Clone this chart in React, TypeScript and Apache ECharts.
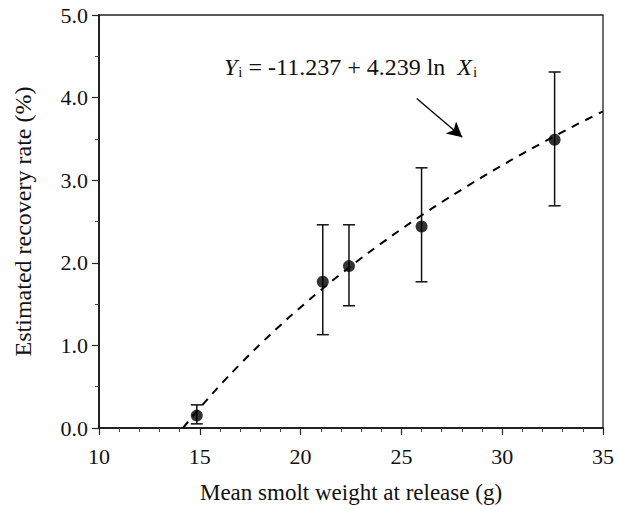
import React, { useEffect, useRef } from "react";
import * as echarts from "echarts";

const weights = [14.85, 21.1, 22.4, 26.0, 32.6];
const recovery = [0.15, 1.77, 1.96, 2.44, 3.49];
const lowerCI = [0.05, 1.13, 1.48, 1.77, 2.69];
const upperCI = [0.28, 2.46, 2.46, 3.15, 4.31];

const fitIntercept = -11.237;
const fitSlope = 4.239;
const fitX = [14.17, 15, 16, 17, 18, 19, 20, 21, 22, 23, 24, 25, 26, 27, 28, 29, 30, 31, 32, 33, 34, 35];

const xTicks = [10, 15, 20, 25, 30, 35];
const yTicks = [0, 1, 2, 3, 4, 5];

const arrowStart = [25.76, 3.99];
const arrowEnd = [28.02, 3.52];

const FONT = "Liberation Serif";

export default function App() {
  const ref = useRef<HTMLDivElement>(null);
  useEffect(() => {
    const chart = echarts.init(ref.current!, null, { renderer: "svg" });
    const fitData = fitX.map((x) => [x, fitIntercept + fitSlope * Math.log(x)]);
    const errData = weights.map((w, i) => [w, lowerCI[i], upperCI[i]]);
    chart.setOption({
      animation: false,
      backgroundColor: "#fff",
      grid: {
        left: 99,
        top: 15,
        right: 18,
        bottom: 75,
        show: true,
        borderColor: "#222",
        borderWidth: 1.3,
        backgroundColor: "transparent",
      },
      xAxis: {
        type: "value",
        min: xTicks[0],
        max: xTicks[xTicks.length - 1],
        interval: 5,
        name: "Mean smolt weight at release (g)",
        nameLocation: "middle",
        nameGap: 53,
        nameTextStyle: { fontFamily: FONT, fontSize: 23, color: "#111" },
        axisLine: { show: true, lineStyle: { color: "#222", width: 2 } },
        axisTick: { show: true, inside: false, length: 7, lineStyle: { color: "#222", width: 1.2 } },
        minorTick: { show: true, splitNumber: 5, length: 4, lineStyle: { color: "#444", width: 1 } },
        splitLine: { show: false },
        axisLabel: { fontFamily: FONT, fontSize: 22, color: "#111", margin: 17 },
      },
      yAxis: {
        type: "value",
        min: yTicks[0],
        max: yTicks[yTicks.length - 1],
        interval: 1,
        name: "Estimated recovery rate (%)",
        nameLocation: "middle",
        nameGap: 64,
        nameTextStyle: { fontFamily: FONT, fontSize: 24, color: "#111" },
        axisLine: { show: true, lineStyle: { color: "#222", width: 2 } },
        axisTick: { show: true, inside: false, length: 7, lineStyle: { color: "#222", width: 1.2 } },
        minorTick: { show: true, splitNumber: 2, length: 4, lineStyle: { color: "#444", width: 1 } },
        splitLine: { show: false },
        axisLabel: {
          fontFamily: FONT,
          fontSize: 22,
          color: "#111",
          margin: 11,
          formatter: (v: number) => v.toFixed(1),
        },
      },
      series: [
        {
          type: "line",
          data: fitData,
          showSymbol: false,
          symbol: "none",
          smooth: true,
          lineStyle: { color: "#000", width: 2, type: [8, 7] },
          z: 2,
          markLine: {
            silent: true,
            symbol: ["none", "arrow"],
            symbolSize: [12, 15],
            label: { show: false },
            lineStyle: { color: "#000", width: 1.3, type: "solid" },
            data: [[{ coord: arrowStart }, { coord: arrowEnd }]],
          },
        },
        {
          type: "custom",
          data: errData,
          z: 3,
          renderItem: (params: any, api: any) => {
            const x = api.value(0);
            const lo = api.coord([x, api.value(1)]);
            const hi = api.coord([x, api.value(2)]);
            const hw = 6;
            const style = { stroke: "#111", lineWidth: 1.5 };
            return {
              type: "group",
              children: [
                { type: "line", shape: { x1: lo[0], y1: lo[1], x2: hi[0], y2: hi[1] }, style },
                { type: "line", shape: { x1: lo[0] - hw, y1: lo[1], x2: lo[0] + hw, y2: lo[1] }, style },
                { type: "line", shape: { x1: hi[0] - hw, y1: hi[1], x2: hi[0] + hw, y2: hi[1] }, style },
              ],
            };
          },
        },
        {
          type: "scatter",
          data: weights.map((w, i) => [w, recovery[i]]),
          symbol: "circle",
          symbolSize: 12,
          itemStyle: { color: "#000" },
          z: 4,
        },
      ],
      graphic: [
        {
          type: "text",
          left: 224,
          top: 55,
          style: {
            text: "{it|Y}{sub|i}{n| = -11.237 + 4.239 ln  }{it|X}{sub|i}",
            rich: {
              it: { fontFamily: FONT, fontSize: 24, fontStyle: "italic", fill: "#111", verticalAlign: "bottom", lineHeight: 29 },
              n: { fontFamily: FONT, fontSize: 24, fill: "#111", verticalAlign: "bottom", lineHeight: 29 },
              sub: { fontFamily: FONT, fontSize: 15, fill: "#111", verticalAlign: "bottom", lineHeight: 22, padding: [0, 0, 0, 1] },
            },
          },
        },
      ],
    });
    return () => chart.dispose();
  }, []);
  return (
    <div
      ref={ref}
      style={{ position: "fixed", left: 0, top: 0, width: 621, height: 509, background: "#fff" }}
    />
  );
}
